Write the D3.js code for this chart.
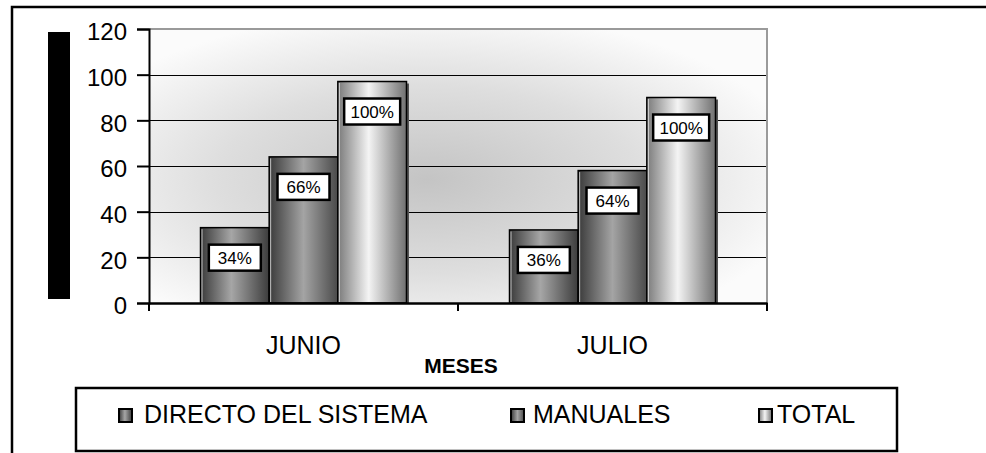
<!DOCTYPE html>
<html>
<head>
<meta charset="utf-8">
<script src="https://cdn.jsdelivr.net/npm/d3@7"></script>
<style>
  html, body { margin: 0; padding: 0; background: #ffffff; }
  svg { display: block; font-family: "Liberation Sans", Arial, sans-serif; }
</style>
</head>
<body>
<svg id="chart" width="986" height="453"></svg>
<script>
// ---- data ----
const categories = ["JUNIO", "JULIO"];
const seriesNames = ["DIRECTO DEL SISTEMA", "MANUALES", "TOTAL"];
const directoValues = [33, 32];
const manualesValues = [64, 58];
const totalValues = [97, 90];
const directoLabels = ["34%", "36%"];
const manualesLabels = ["66%", "64%"];
const totalLabels = ["100%", "100%"];
const yTickValues = [0, 20, 40, 60, 80, 100, 120];
const xAxisTitle = "MESES";

const seriesValues = [directoValues, manualesValues, totalValues];
const seriesLabels = [directoLabels, manualesLabels, totalLabels];

// ---- layout ----
const svg = d3.select("#chart");
const plot = { left: 149, right: 767, top: 29, bottom: 303 };

const y = d3.scaleLinear().domain([0, 120]).range([plot.bottom, plot.top]);
const x0 = d3.scaleBand().domain(categories).range([plot.left, plot.right]).padding(0);
const x1 = d3.scaleBand().domain(seriesNames).range([0, x0.bandwidth()])
  .paddingInner(0).paddingOuter(0.75);

// ---- gradients ----
const defs = svg.append("defs");
const bg = defs.append("radialGradient").attr("id", "bgGrad")
  .attr("cx", 0.45).attr("cy", 0.55).attr("r", 0.62);
bg.append("stop").attr("offset", "0%").attr("stop-color", "#c4c4c4");
bg.append("stop").attr("offset", "55%").attr("stop-color", "#dedede");
bg.append("stop").attr("offset", "100%").attr("stop-color", "#fbfbfb");

const barGrads = [
  [["0%", "#3a3a3a"], ["45%", "#a6a6a6"], ["100%", "#3c3c3c"]],
  [["0%", "#3a3a3a"], ["50%", "#a4a4a4"], ["100%", "#4a4a4a"]],
  [["0%", "#7a7a7a"], ["45%", "#f4f4f4"], ["100%", "#707070"]]
];
barGrads.forEach((stops, i) => {
  const g = defs.append("linearGradient").attr("id", "barGrad" + i)
    .attr("x1", 0).attr("x2", 1).attr("y1", 0).attr("y2", 0);
  stops.forEach(s => g.append("stop").attr("offset", s[0]).attr("stop-color", s[1]));
});

// ---- outer frame ----
svg.append("path")
  .attr("d", "M12,453 L12,7 L990,7")
  .attr("fill", "none").attr("stroke", "#000").attr("stroke-width", 2.5);

// ---- black block (axis title area) ----
svg.append("rect").attr("x", 48).attr("y", 32).attr("width", 22).attr("height", 267)
  .attr("fill", "#000");

// ---- plot background ----
svg.append("rect")
  .attr("x", plot.left).attr("y", plot.top)
  .attr("width", plot.right - plot.left).attr("height", plot.bottom - plot.top)
  .attr("fill", "url(#bgGrad)");

// gridlines
svg.append("g").selectAll("line")
  .data(yTickValues.filter(v => v > 0 && v < 120))
  .join("line")
  .attr("x1", plot.left).attr("x2", plot.right)
  .attr("y1", d => Math.round(y(d)) + 0.5).attr("y2", d => Math.round(y(d)) + 0.5)
  .attr("stroke", "#000").attr("stroke-width", 1);

// plot border (top & right)
svg.append("path")
  .attr("d", `M${plot.left},${plot.top} L${plot.right},${plot.top} L${plot.right},${plot.bottom}`)
  .attr("fill", "none").attr("stroke", "#9a9a9a").attr("stroke-width", 2);

// ---- bars ----
const barData = [];
categories.forEach((c, ci) => {
  seriesNames.forEach((s, si) => {
    barData.push({ cat: c, ser: s, si: si, value: seriesValues[si][ci], label: seriesLabels[si][ci] });
  });
});

const bars = svg.append("g");
// shadow for total bars
bars.selectAll("rect.shadow")
  .data(barData.filter(d => d.si === 2))
  .join("rect").attr("class", "shadow")
  .attr("x", d => x0(d.cat) + x1(d.ser) + 2.5)
  .attr("y", d => y(d.value) + 2)
  .attr("width", x1.bandwidth())
  .attr("height", d => y(0) - y(d.value) - 2)
  .attr("fill", "#555");

bars.selectAll("rect.bar")
  .data(barData)
  .join("rect").attr("class", "bar")
  .attr("x", d => x0(d.cat) + x1(d.ser))
  .attr("y", d => y(d.value))
  .attr("width", x1.bandwidth())
  .attr("height", d => y(0) - y(d.value))
  .attr("fill", d => `url(#barGrad${d.si})`)
  .attr("stroke", "#000").attr("stroke-width", 1.5);

// white highlight on left edge
bars.selectAll("line.hl")
  .data(barData)
  .join("line").attr("class", "hl")
  .attr("x1", d => x0(d.cat) + x1(d.ser) + 1.5)
  .attr("x2", d => x0(d.cat) + x1(d.ser) + 1.5)
  .attr("y1", d => y(d.value) + 1.5)
  .attr("y2", d => y(0) - 1)
  .attr("stroke", "#ffffff").attr("stroke-width", 1).attr("opacity", 0.7);

// ---- data labels ----
const labels = svg.append("g");
const lw = d => d.label.length > 3 ? 56 : 52;
labels.selectAll("rect")
  .data(barData)
  .join("rect")
  .attr("x", d => x0(d.cat) + x1(d.ser) + x1.bandwidth() / 2 - lw(d) / 2)
  .attr("y", d => y(d.value) + 17)
  .attr("width", d => lw(d))
  .attr("height", 26)
  .attr("fill", "#fff").attr("stroke", "#000").attr("stroke-width", 2.5);
labels.selectAll("text")
  .data(barData)
  .join("text")
  .attr("x", d => x0(d.cat) + x1(d.ser) + x1.bandwidth() / 2)
  .attr("y", d => y(d.value) + 36)
  .attr("text-anchor", "middle")
  .attr("font-size", 17)
  .attr("fill", "#000")
  .text(d => d.label);

// ---- y axis ----
const yAxis = svg.append("g")
  .attr("transform", `translate(${plot.left},0)`)
  .call(d3.axisLeft(y).tickValues(yTickValues).tickSize(12).tickPadding(10).tickFormat(d3.format("d")));
yAxis.select(".domain").attr("stroke", "#000").attr("stroke-width", 2);
yAxis.selectAll(".tick line").attr("stroke", "#000").attr("stroke-width", 2);
yAxis.selectAll(".tick text")
  .attr("font-size", 24).attr("font-family", "'Liberation Sans', Arial, sans-serif")
  .attr("fill", "#000").attr("dy", "0.45em");

// ---- x axis ----
const xAxis = svg.append("g")
  .attr("transform", `translate(0,${plot.bottom})`)
  .call(d3.axisBottom(x0).tickSize(0).tickPadding(33));
xAxis.select(".domain").attr("stroke", "#000").attr("stroke-width", 2.5);
xAxis.selectAll(".tick text")
  .attr("font-size", 25).attr("font-family", "'Liberation Sans', Arial, sans-serif")
  .attr("fill", "#000");
// boundary ticks
const boundaries = categories.map(c => x0(c)).concat([x0(categories[categories.length - 1]) + x0.bandwidth()]);
xAxis.selectAll("line.btick")
  .data(boundaries)
  .join("line").attr("class", "btick")
  .attr("x1", d => d).attr("x2", d => d)
  .attr("y1", 0).attr("y2", 8)
  .attr("stroke", "#000").attr("stroke-width", 2);

svg.append("text")
  .attr("x", 461).attr("y", 373)
  .attr("text-anchor", "middle")
  .attr("font-size", 21).attr("font-weight", "bold")
  .attr("fill", "#000")
  .text(xAxisTitle);

// ---- legend ----
const legendBox = { x: 76, y: 388, w: 821, h: 63 };
svg.append("rect")
  .attr("x", legendBox.x).attr("y", legendBox.y)
  .attr("width", legendBox.w).attr("height", legendBox.h)
  .attr("fill", "#fff").attr("stroke", "#000").attr("stroke-width", 2.5);

const legendTextX = [144, 533, 777];
const legendSwatchX = [119, 511, 759];
const leg = svg.append("g").selectAll("g")
  .data(seriesNames)
  .join("g");
leg.append("rect")
  .attr("x", (d, i) => legendSwatchX[i]).attr("y", 409)
  .attr("width", 13).attr("height", 13)
  .attr("fill", (d, i) => `url(#barGrad${i})`)
  .attr("stroke", "#000").attr("stroke-width", 2);
leg.append("text")
  .attr("x", (d, i) => legendTextX[i]).attr("y", 423)
  .attr("font-size", 25).attr("fill", "#000")
  .text(d => d);
</script>
</body>
</html>
